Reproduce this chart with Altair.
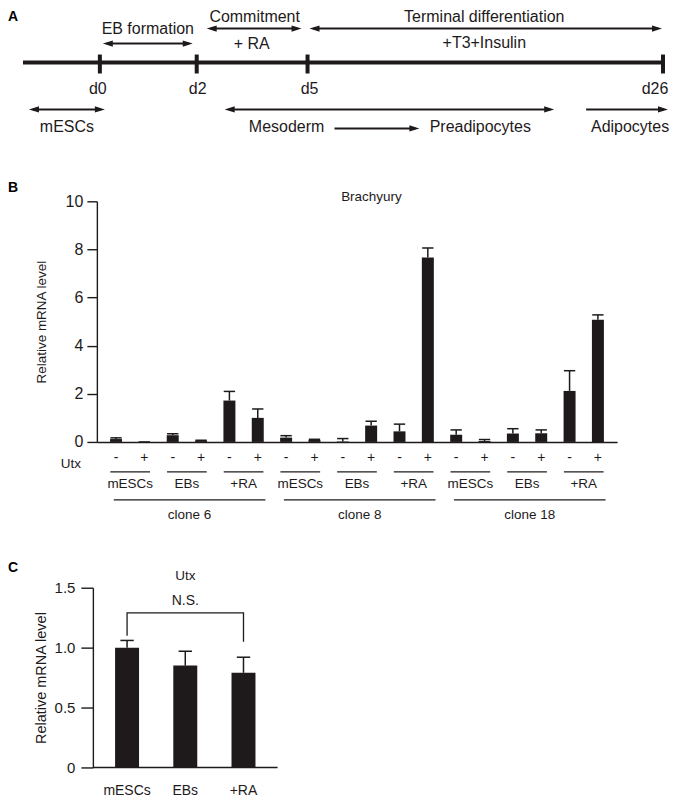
import altair as alt
import pandas as pd

FONT = "Liberation Sans"
INK = "#1e1a1b"

# ---------------- Panel A: schematic timeline ----------------
day_labels = ["d0", "d2", "d5", "d26"]
day_pos = [100, 197, 308, 664]
day_label_pos = [98, 198, 310, 656]
timeline_span = [23, 664]

arrow_x1 = [103, 207, 310, 29, 225, 587, 335]
arrow_x2 = [193, 302, 663, 105, 555, 669, 420]
arrow_y = [42, 27, 27, 108, 108, 108, 127]
arrow_both = [True, True, True, True, True, False, False]

a_texts = ["Commitment", "EB formation", "+ RA", "Terminal differentiation",
           "+T3+Insulin", "mESCs", "Mesoderm", "Preadipocytes", "Adipocytes"]
a_text_x = [255, 148, 252, 485, 485, 67, 287, 481, 631]
a_text_y = [15, 27, 42, 15, 41, 126, 126, 126, 126]

# ---------------- Panel B: Brachyury ----------------
clones = ["clone 6", "clone 8", "clone 18"]
stages = ["mESCs", "EBs", "+RA"]
utx_signs = ["-", "+"]
brachyury = [0.12, 0.0, 0.28, 0.05, 1.72, 1.0,
             0.18, 0.08, 0.02, 0.68, 0.44, 7.66,
             0.30, 0.04, 0.35, 0.36, 2.12, 5.08]
brachyury_err = [0.05, 0.0, 0.06, 0.02, 0.38, 0.37,
                 0.08, 0.03, 0.12, 0.18, 0.30, 0.40,
                 0.20, 0.06, 0.20, 0.14, 0.84, 0.20]

# ---------------- Panel C: Utx ----------------
c_stages = ["mESCs", "EBs", "+RA"]
utx_level = [1.0, 0.85, 0.79]
utx_err = [0.06, 0.12, 0.13]
ns_bracket_y = [1.10, 1.29, 1.29, 1.05]
ns_bracket_i = [0, 0, 2, 2]

# ======================= build panel A =======================
WA, HA = 573, 126
xA = dict(scale=alt.Scale(domain=[97, 670], nice=False, zero=False), axis=None)
yA = dict(scale=alt.Scale(domain=[8, 134], nice=False, zero=False, reverse=True), axis=None)

tl = pd.DataFrame({"x": [timeline_span[0]], "x2": [timeline_span[1]], "y": [61]})
timeline = alt.Chart(tl).mark_rule(color=INK, strokeWidth=4).encode(
    x=alt.X("x:Q", **xA), x2="x2:Q", y=alt.Y("y:Q", **yA))

dd = pd.DataFrame({"x": day_pos, "y": [53] * 4, "y2": [72] * 4})
dticks = alt.Chart(dd).mark_rule(color=INK, strokeWidth=4).encode(
    x=alt.X("x:Q", **xA), y=alt.Y("y:Q", **yA), y2="y2:Q")

dl = pd.DataFrame({"t": day_labels, "x": day_label_pos, "y": [88] * 4})
dlabels = alt.Chart(dl).mark_text(font=FONT, fontSize=16, color=INK, baseline="middle").encode(
    x=alt.X("x:Q", **xA), y=alt.Y("y:Q", **yA), text="t:N")

ar = pd.DataFrame({"x1": arrow_x1, "x2": arrow_x2, "y": arrow_y, "both": arrow_both})
ar["ls"] = ar["x1"] + ar["both"].astype(int) * 4
ar["le"] = ar["x2"] - 4
ar["hr"] = ar["x2"] - 5
ar["hl"] = ar["x1"] + 5
shafts = alt.Chart(ar).mark_rule(color=INK, strokeWidth=2).encode(
    x=alt.X("ls:Q", **xA), x2="le:Q", y=alt.Y("y:Q", **yA))
heads_r = alt.Chart(ar).mark_point(shape="M-1,-0.62L1,0L-1,0.62Z", filled=True, size=100,
                                   color=INK, opacity=1).encode(
    x=alt.X("hr:Q", **xA), y=alt.Y("y:Q", **yA))
heads_l = alt.Chart(ar[ar["both"]]).mark_point(shape="M1,-0.62L-1,0L1,0.62Z", filled=True, size=100,
                                               color=INK, opacity=1).encode(
    x=alt.X("hl:Q", **xA), y=alt.Y("y:Q", **yA))

at = pd.DataFrame({"t": a_texts, "x": a_text_x, "y": a_text_y})
atexts = alt.Chart(at).mark_text(font=FONT, fontSize=16, color=INK, baseline="middle").encode(
    x=alt.X("x:Q", **xA), y=alt.Y("y:Q", **yA), text="t:N")

letterA = alt.Chart(pd.DataFrame({"t": ["A"]})).mark_text(
    font=FONT, fontSize=14, fontWeight="bold", color="black", align="left", baseline="middle"
).encode(x=alt.value(-89), y=alt.value(7), text="t:N")

panelA = alt.layer(timeline, dticks, dlabels, shafts, heads_r, heads_l, atexts, letterA).properties(
    width=WA, height=HA)

# ======================= build panel B =======================
WB, HB = 521, 241
rows = []
i = 0
for cn in clones:
    for s in stages:
        for u in utx_signs:
            rows.append({"idx": i, "clone": cn, "stage": s, "utx": u})
            i += 1
b = pd.DataFrame(rows)
b["value"] = brachyury
b["err"] = brachyury_err
b["top"] = b["value"] + b["err"]
b["c0"] = b["idx"] - 0.2
b["c1"] = b["idx"] + 0.2

grp = b.groupby(["clone", "stage"], sort=False)["idx"].agg(["min", "max"]).reset_index()
grp["x0"] = grp["min"] - 0.2
grp["x1"] = grp["max"] + 0.2
grp["xc"] = (grp["min"] + grp["max"]) / 2
cl = b.groupby("clone", sort=False)["idx"].agg(["min", "max"]).reset_index()
cl["x0"] = cl["min"] - 0.08
cl["x1"] = cl["max"] + 0.27
cl["xc"] = (cl["x0"] + cl["x1"]) / 2

xB_scale = alt.Scale(domain=[-0.5, 17.5], nice=False, zero=False)
yB_scale = alt.Scale(domain=[0, 10], nice=False)
xB_axis = alt.Axis(labels=False, ticks=False, title=None, grid=False,
                   domainColor=INK, domainWidth=1.4)
yB_axis = alt.Axis(values=[0, 2, 4, 6, 8, 10], format="d", tickSize=10, labelPadding=4,
                   labelFont=FONT, labelFontSize=16, labelColor=INK,
                   tickColor=INK, tickWidth=1.4, domainColor=INK, domainWidth=1.4,
                   grid=False, title="Relative mRNA level", titleFont=FONT,
                   titleFontSize=13.5, titleFontWeight="normal", titleColor=INK,
                   titlePadding=17)


def xb(f):
    return alt.X(f, scale=xB_scale, axis=xB_axis)


def yb(f):
    return alt.Y(f, scale=yB_scale, axis=yB_axis)


barsB = alt.Chart(b).mark_bar(size=12, color=INK).encode(x=xb("idx:Q"), y=yb("value:Q"))
errB = alt.Chart(b).mark_rule(color=INK, strokeWidth=1.5).encode(
    x=xb("idx:Q"), y=yb("value:Q"), y2="top:Q")
capB = alt.Chart(b).mark_rule(color=INK, strokeWidth=1.5).encode(
    x=xb("c0:Q"), x2="c1:Q", y=yb("top:Q"))
signB = alt.Chart(b).mark_text(font=FONT, fontSize=14, color=INK, baseline="middle").encode(
    x=xb("idx:Q"), y=alt.value(HB + 16), text="utx:N")
grpLine = alt.Chart(grp).mark_rule(color=INK, strokeWidth=1.2).encode(
    x=xb("x0:Q"), x2="x1:Q", y=alt.value(HB + 30))
grpText = alt.Chart(grp).mark_text(font=FONT, fontSize=13.5, color=INK, baseline="middle").encode(
    x=xb("xc:Q"), y=alt.value(HB + 42), text="stage:N")
clLine = alt.Chart(cl).mark_rule(color=INK, strokeWidth=1.2).encode(
    x=xb("x0:Q"), x2="x1:Q", y=alt.value(HB + 58))
clText = alt.Chart(cl).mark_text(font=FONT, fontSize=13.5, color=INK, baseline="middle").encode(
    x=xb("xc:Q"), y=alt.value(HB + 73), text="clone:N")
utxB = alt.Chart(pd.DataFrame({"t": ["Utx"]})).mark_text(
    font=FONT, fontSize=13.5, color=INK, baseline="middle").encode(
    x=alt.value(-26), y=alt.value(HB + 22), text="t:N")
letterB = alt.Chart(pd.DataFrame({"t": ["B"]})).mark_text(
    font=FONT, fontSize=14, fontWeight="bold", color="black", align="left", baseline="middle"
).encode(x=alt.value(-89), y=alt.value(-13), text="t:N")
titleB = alt.Chart(pd.DataFrame({"t": ["Brachyury"]})).mark_text(
    font=FONT, fontSize=13.5, color=INK, baseline="middle").encode(
    x=alt.value(275), y=alt.value(-4), text="t:N")

panelB = alt.layer(barsB, errB, capB, signB, grpLine, grpText, clLine, clText,
                   utxB, letterB, titleB).properties(width=WB, height=HB)

# ======================= build panel C =======================
WC, HC = 181, 180
c = pd.DataFrame({"idx": [0, 1, 2], "stage": c_stages, "value": utx_level, "err": utx_err})
c["top"] = c["value"] + c["err"]
c["c0"] = c["idx"] - 0.115
c["c1"] = c["idx"] + 0.115
br = pd.DataFrame({"idx": ns_bracket_i, "y": ns_bracket_y, "o": [0, 1, 2, 3]})

xC_scale = alt.Scale(domain=[-0.433, 2.5], nice=False, zero=False)
yC_scale = alt.Scale(domain=[0, 1.5], nice=False)
xC_axis = alt.Axis(labels=False, ticks=False, title=None, grid=False, domain=False)
yC_axis = alt.Axis(values=[0, 0.5, 1.0, 1.5], offset=4,
                   labelExpr="datum.value == 0 ? '0' : format(datum.value, '.1f')",
                   tickSize=12, labelPadding=6, labelFont=FONT, labelFontSize=15,
                   labelColor=INK, tickColor=INK, tickWidth=1.4, domainColor=INK,
                   domainWidth=1.4, grid=False, title="Relative mRNA level",
                   titleFont=FONT, titleFontSize=14.5, titleFontWeight="normal",
                   titleColor=INK, titlePadding=6)


def xc(f):
    return alt.X(f, scale=xC_scale, axis=xC_axis)


def yc(f):
    return alt.Y(f, scale=yC_scale, axis=yC_axis)


barsC = alt.Chart(c).mark_bar(size=24, color=INK).encode(x=xc("idx:Q"), y=yc("value:Q"))
errC = alt.Chart(c).mark_rule(color=INK, strokeWidth=1.5).encode(
    x=xc("idx:Q"), y=yc("value:Q"), y2="top:Q")
capC = alt.Chart(c).mark_rule(color=INK, strokeWidth=1.5).encode(
    x=xc("c0:Q"), x2="c1:Q", y=yc("top:Q"))
baseC = alt.Chart(pd.DataFrame({"k": [0]})).mark_rule(color=INK, strokeWidth=1.4).encode(
    x=alt.value(-4), x2=alt.value(WC), y=alt.value(HC))
labC = alt.Chart(c).mark_text(font=FONT, fontSize=14, color=INK, baseline="middle").encode(
    x=xc("idx:Q"), y=alt.value(HC + 24), text="stage:N")
bracket = alt.Chart(br).mark_line(color=INK, strokeWidth=1.3).encode(
    x=xc("idx:Q"), y=yc("y:Q"), order="o:Q")
nsText = alt.Chart(pd.DataFrame({"t": ["N.S."], "idx": [1], "y": [1.39]})).mark_text(
    font=FONT, fontSize=14, color=INK, baseline="middle").encode(
    x=xc("idx:Q"), y=yc("y:Q"), text="t:N")
titleC = alt.Chart(pd.DataFrame({"t": ["Utx"], "idx": [1]})).mark_text(
    font=FONT, fontSize=13.5, color=INK, baseline="middle").encode(
    x=xc("idx:Q"), y=alt.value(-12), text="t:N")
letterC = alt.Chart(pd.DataFrame({"t": ["C"]})).mark_text(
    font=FONT, fontSize=14, fontWeight="bold", color="black", align="left", baseline="middle"
).encode(x=alt.value(-89), y=alt.value(-20), text="t:N")

panelC = alt.layer(barsC, errC, capC, baseC, labC, bracket, nsText, titleC, letterC).properties(
    width=WC, height=HC)

inner = alt.vconcat(panelB, panelC, spacing=39)
chart = alt.vconcat(panelA, inner, spacing=46).properties(padding=0).configure_view(strokeWidth=0)

chart.save("out.html", embed_options={"renderer": "svg", "actions": False})
